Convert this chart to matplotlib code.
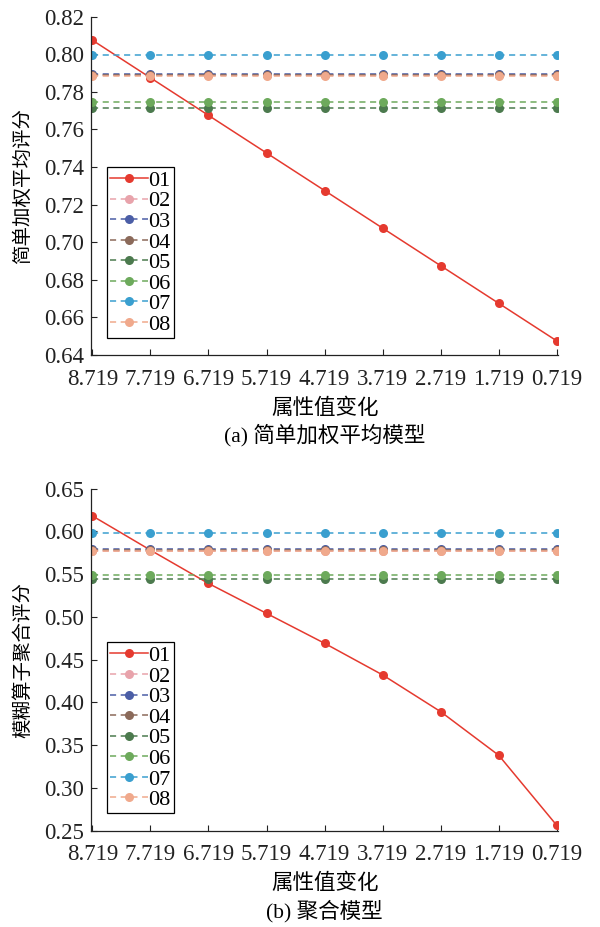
import matplotlib
matplotlib.use("Agg")
import matplotlib.pyplot as plt

plt.rcParams['font.family'] = ['Liberation Serif', 'Noto Sans CJK SC']
plt.rcParams['axes.unicode_minus'] = False

# x-axis: attribute value change
x_labels = ["8.719", "7.719", "6.719", "5.719", "4.719", "3.719", "2.719", "1.719", "0.719"]
series_names = ["01", "02", "03", "04", "05", "06", "07", "08"]

# (a) simple weighted average scores
simple_01 = [0.8075, 0.7875, 0.7675, 0.7475, 0.7275, 0.7075, 0.6875, 0.6675, 0.6475]
simple_const = {
    "02": 0.7888, "03": 0.7895, "04": 0.7890, "05": 0.7716,
    "06": 0.7745, "07": 0.7995, "08": 0.7882,
}

# (b) fuzzy operator aggregation scores
fuzzy_01 = [0.618, 0.578, 0.539, 0.504, 0.469, 0.432, 0.389, 0.338, 0.256]
fuzzy_const = {
    "02": 0.5775, "03": 0.5790, "04": 0.5780, "05": 0.5445,
    "06": 0.5485, "07": 0.5985, "08": 0.5765,
}

colors = {
    "01": "#e53a2f", "02": "#e8a3ab", "03": "#4b5ea6", "04": "#8b6a5a",
    "05": "#4c7a4e", "06": "#6daa5c", "07": "#3a9fcf", "08": "#f0a98c",
}


def draw(ax, first, const, ylim, yticks, ylabel, xlabel, caption):
    xs = list(range(len(x_labels)))
    ax.plot(xs, first, "-o", color=colors["01"], lw=1.1, ms=6.5,
            markeredgewidth=0, label="01")
    for name in series_names[1:]:
        ax.plot(xs, [const[name]] * len(xs), "--o", color=colors[name],
                lw=1.1, ms=6.5, markeredgewidth=0, label=name,
                dashes=(4, 3))
    ax.set_xlim(-0.02, len(xs) - 1 + 0.02)
    ax.set_ylim(*ylim)
    ax.set_xticks(xs)
    ax.set_xticklabels(x_labels)
    ax.set_yticks(yticks)
    ax.set_yticklabels([f"{v:.2f}" for v in yticks])
    ax.tick_params(direction="in", labelsize=16.5, length=4, width=0.8,
                   colors="#222222")
    ax.tick_params(axis="x", pad=10)
    ax.tick_params(axis="y", pad=5)
    for s in ["top", "right"]:
        ax.spines[s].set_visible(False)
    for s in ["left", "bottom"]:
        ax.spines[s].set_linewidth(0.9)
        ax.spines[s].set_color("#222222")
    ax.set_ylabel(ylabel, fontsize=14, labelpad=9)
    ax.set_xlabel(xlabel + "\n" + caption, fontsize=15.5, linespacing=1.3,
                  labelpad=6)
    leg = ax.legend(loc="lower left", bbox_to_anchor=(0.034, 0.05),
                    fontsize=16, frameon=True, fancybox=False,
                    edgecolor="black", framealpha=1, handlelength=1.7,
                    handletextpad=0.0, labelspacing=0.0, borderpad=0.15,
                    borderaxespad=0)
    leg.get_frame().set_linewidth(0.9)


fig = plt.figure(figsize=(6, 9.27), dpi=100)
ax1 = fig.add_axes([0.152, 0.617, 0.778, 0.365])
ax2 = fig.add_axes([0.152, 0.104, 0.778, 0.369])

draw(ax1, simple_01, simple_const, (0.64, 0.82),
     [0.64, 0.66, 0.68, 0.70, 0.72, 0.74, 0.76, 0.78, 0.80, 0.82],
     "简单加权平均评分", "属性值变化", "(a) 简单加权平均模型")
draw(ax2, fuzzy_01, fuzzy_const, (0.25, 0.65),
     [0.25, 0.30, 0.35, 0.40, 0.45, 0.50, 0.55, 0.60, 0.65],
     "模糊算子聚合评分", "属性值变化", "(b) 聚合模型")

fig.savefig("out.png", dpi=100)
